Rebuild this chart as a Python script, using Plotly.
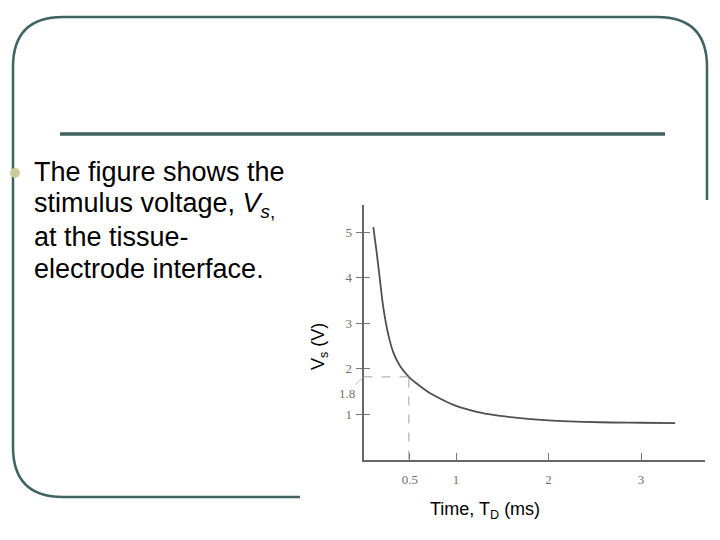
import plotly.graph_objects as go

# ---- data ----
t_ms = [0.106, 0.143, 0.178, 0.214, 0.268, 0.322, 0.395, 0.49, 0.557, 0.683, 0.755, 1.0, 1.29, 1.476, 2.0, 2.56, 3.0, 3.37]
vs_v = [5.12, 4.55, 3.95, 3.35, 2.75, 2.36, 2.06, 1.82, 1.70, 1.51, 1.42, 1.18, 1.02, 0.96, 0.86, 0.82, 0.81, 0.80]
marker_t = 0.49
marker_v = 1.82
marker_label = "1.8"
x_ticks = [0.5, 1, 2, 3]
x_tick_text = ["0.5", "1", "2", "3"]
y_ticks = [1, 2, 3, 4, 5]
y_tick_text = ["1", "2", "3", "4", "5"]
bullet_lines = ["The figure shows the",
                "stimulus voltage, <i>V</i><sub><i>s</i>,</sub>",
                "at the tissue-",
                "electrode interface."]

W, H = 720, 540
FRAME = "#3f6363"


def px(x):
    return x / W


def py(y):
    return 1 - y / H


fig = go.Figure()

# dashed guide lines
fig.add_trace(go.Scatter(x=[0, marker_t], y=[marker_v, marker_v], mode="lines",
                         line=dict(color="#a0a0a0", width=1, dash="dash"),
                         hoverinfo="skip", showlegend=False, yaxis="y2"))
fig.add_trace(go.Scatter(x=[marker_t, marker_t], y=[0, marker_v], mode="lines",
                         line=dict(color="#a0a0a0", width=1, dash="dash"),
                         hoverinfo="skip", showlegend=False))
# curve
fig.add_trace(go.Scatter(x=t_ms, y=vs_v, mode="lines",
                         line=dict(color="#505050", width=1.8, shape="spline", smoothing=0.8),
                         showlegend=False))

tickfont = dict(family="Liberation Serif", size=13, color="#707070")
x0, x1 = 363.5, 705
ybot, ytop = 459.5, 205
fig.update_layout(
    width=W, height=H, margin=dict(l=0, r=0, t=0, b=0),
    paper_bgcolor="white", plot_bgcolor="white",
    xaxis=dict(domain=[px(x0), px(x1)], range=[0, (x1 - x0) / 92.5],
               showgrid=False, zeroline=False, showline=True, linecolor="#666666", linewidth=1.5,
               ticks="inside", ticklen=7, tickcolor="#777777", tickvals=x_ticks, ticktext=x_tick_text,
               tickfont=tickfont, ticklabelstandoff=7),
    yaxis=dict(domain=[py(ybot), py(ytop)], range=[0, (ybot - ytop) / 45.4],
               showgrid=False, zeroline=False, showline=True, linecolor="#666666", linewidth=1.8,
               ticks="outside", ticklen=6, tickcolor="#777777", tickvals=y_ticks, ticktext=y_tick_text,
               tickfont=tickfont, ticklabelstandoff=1),
    yaxis2=dict(overlaying="y", matches="y", side="left", showgrid=False, zeroline=False, showline=False,
                ticks="inside", ticklen=6, tickcolor="#777777", tickvals=y_ticks, showticklabels=False),
)

# "1.8" label with leader line
fig.add_annotation(x=0, y=marker_v, xref="x", yref="y", text=marker_label, showarrow=True,
                   arrowhead=0, arrowwidth=0.8, arrowcolor="#b0b0b0", ax=-17, ay=17,
                   font=tickfont)

# axis titles
fig.add_annotation(x=px(319), y=py(347), xref="paper", yref="paper", text="V<sub>s</sub> (V)",
                   textangle=-90, showarrow=False, font=dict(family="Liberation Sans", size=18, color="black"))
fig.add_annotation(x=px(542), y=py(497), xref="paper", yref="paper", text="Time, T<sub>D</sub> (ms)",
                   yanchor="top", showarrow=False, font=dict(family="Liberation Sans", size=18, color="black"))

# slide text
for i, line in enumerate(bullet_lines):
    fig.add_annotation(x=px(32), y=py(172 + i * 32.5), xref="paper", yref="paper", text=line,
                       xanchor="left", yanchor="middle", showarrow=False,
                       font=dict(family="Liberation Sans", size=27, color="black"))

# slide frame
def pt(x, y):
    return f"{px(x):.5f},{py(y):.5f}"

r = 50
path = (f"M {pt(300, 497)} L {pt(13 + r, 497)} Q {pt(13, 497)} {pt(13, 497 - r)} "
        f"L {pt(13, 17 + r)} Q {pt(13, 17)} {pt(13 + r, 17)} "
        f"L {pt(707 - r, 17)} Q {pt(707, 17)} {pt(707, 17 + r)} L {pt(707, 200)}")
fig.add_shape(type="path", path=path, xref="paper", yref="paper", line=dict(color=FRAME, width=2.5), layer="below")
fig.add_shape(type="line", x0=px(60), x1=px(665), y0=py(134), y1=py(134), xref="paper", yref="paper",
              line=dict(color=FRAME, width=3.5))
fig.add_shape(type="circle", x0=px(10), x1=px(20), y0=py(168), y1=py(178), xref="paper", yref="paper",
              fillcolor="#cccc99", line=dict(color="#cccc99", width=0))

fig.write_html("out.html", config={"displayModeBar": False},
               post_script="document.body.style.margin='0px';")
